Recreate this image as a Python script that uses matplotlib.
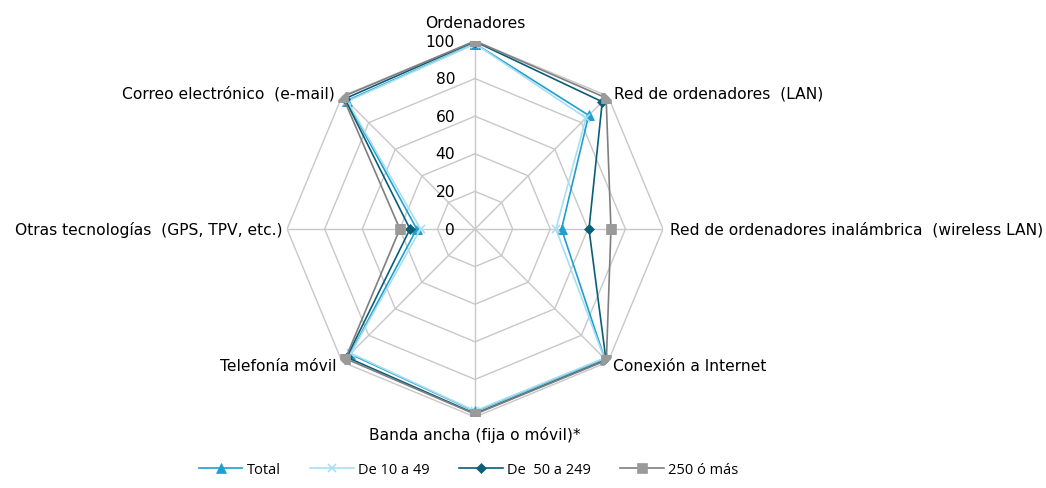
import numpy as np
import matplotlib.pyplot as plt

plt.rcParams["font.family"] = ["DejaVu Sans"]

categorias = ["Ordenadores", "Red de ordenadores  (LAN)",
              "Red de ordenadores inalámbrica  (wireless LAN)", "Conexión a Internet",
              "Banda ancha (fija o móvil)*", "Telefonía móvil",
              "Otras tecnologías  (GPS, TPV, etc.)", "Correo electrónico  (e-mail)"]

total = [98.6, 85.5, 46.0, 97.5, 97.0, 94.0, 31.0, 96.5]
de_10_49 = [98.5, 83.5, 43.0, 97.2, 96.8, 93.5, 29.0, 96.0]
de_50_249 = [99.7, 95.7, 60.6, 98.5, 98.2, 96.5, 34.6, 98.0]
mas_250 = [100.0, 98.6, 72.3, 98.8, 98.5, 97.5, 40.0, 99.5]

series = ["Total", "De 10 a 49", "De  50 a 249", "250 ó más"]
valores = [total, de_10_49, de_50_249, mas_250]
colores = ["#1e9fcc", "#a9def2", "#0b5e78", "#9a9a9a"]
lineas = ["#1e9fcc", "#a9def2", "#0b5e78", "#7f7f7f"]
marcas = ["^", "x", "D", "s"]
tam = [6.5, 6, 5, 7]

fig = plt.figure(figsize=(10.46, 4.89), dpi=100)
ax = fig.add_axes([0.2744, 0.1452, 0.3595, 0.7689], polar=True)
ax.set_theta_zero_location("N")
ax.set_theta_direction(-1)

n = len(categorias)
ang = np.arange(n) * 2 * np.pi / n
ang_c = np.append(ang, ang[0])

# rejilla poligonal
for r in [20, 40, 60, 80, 100]:
    ax.plot(ang_c, [r] * (n + 1), color="#c8c8c8", lw=1, zorder=1)
for a in ang:
    ax.plot([a, a], [0, 100], color="#c8c8c8", lw=1, zorder=1)

for v, nom, c, lc, m, s in zip(valores, series, colores, lineas, marcas, tam):
    vv = np.append(v, v[0])
    ax.plot(ang_c, vv, color=lc, lw=1.2, marker=m, markersize=s,
            markerfacecolor=c, markeredgecolor=c, markeredgewidth=1.2 if m == "x" else 0.5,
            label=nom, zorder=3)

ax.set_ylim(0, 100)
ax.grid(False)
ax.spines["polar"].set_visible(False)
ax.set_xticks([])
ax.set_yticks([])
ax.patch.set_alpha(0)

# etiquetas radiales
for r in [0, 20, 40, 60, 80, 100]:
    ax.annotate(str(r), xy=(0, r), xytext=(-20, 0), textcoords="offset pixels",
                ha="right", va="center", fontsize=11.2, color="#000000")

# etiquetas de categorias
offs = [(0, 19, "center"), (6, 3, "left"), (7, 0, "left"), (5, -4, "left"),
        (0, -17, "center"), (-6, -4, "right"), (-5, 0, "right"), (-7, 3, "right")]
for a, lab, (dx, dy, ha) in zip(ang, categorias, offs):
    ax.annotate(lab, xy=(a, 100), xytext=(dx, dy), textcoords="offset pixels",
                ha=ha, va="center", fontsize=11.2, color="#000000")

fig.legend(loc="lower center", ncol=4, frameon=False,
           bbox_to_anchor=(0.448, -0.005), handlelength=3.0, columnspacing=2.0,
           handletextpad=0.3, prop={"family": "Open Sans", "size": 10.5})

fig.savefig("out.png", dpi=100)
